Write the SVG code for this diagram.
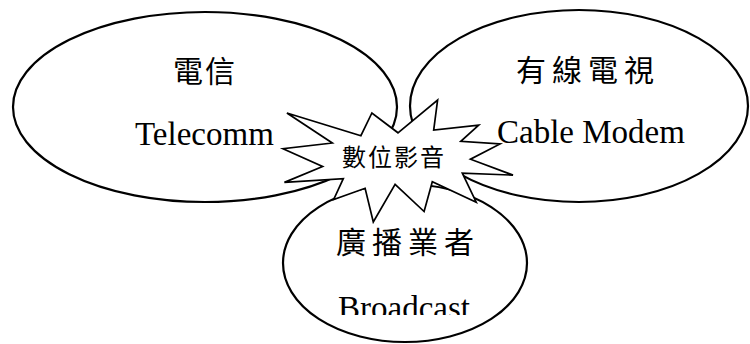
<svg xmlns="http://www.w3.org/2000/svg" width="750" height="344" viewBox="0 0 750 344">
<style>
.shape{fill:#fff;stroke:#000;stroke-width:2.2}
.star{fill:#fff;stroke:#000;stroke-width:1.7;stroke-linejoin:miter}
.cjk{font-family:"Noto Sans CJK TC","Noto Sans CJK SC",sans-serif;font-size:30px;letter-spacing:6px;fill:#000}
.cjk-s{font-family:"Noto Sans CJK TC","Noto Sans CJK SC",sans-serif;font-size:24px;letter-spacing:2px;fill:#000}
.en{font-family:"Liberation Serif","Times New Roman",serif;font-size:33px;fill:#000}
</style>
<defs>
<clipPath id="clipB"><rect x="300" y="280" width="200" height="35"/></clipPath>
</defs>
<g id="telecom">
<ellipse class="shape" cx="205" cy="107" rx="192" ry="95"/>
<text class="cjk" x="173" y="82" style="letter-spacing:2px">電信</text>
<text class="en" x="135" y="145">Telecomm</text>
</g>
<g id="cable">
<ellipse class="shape" cx="579" cy="106" rx="169" ry="96"/>
<text class="cjk" x="516" y="81">有線電視</text>
<text class="en" x="497" y="143">Cable Modem</text>
</g>
<g id="broadcast">
<ellipse class="shape" cx="405" cy="263" rx="122" ry="79"/>
<text class="cjk" x="336" y="253">廣播業者</text>
<text class="en" x="338" y="319" clip-path="url(#clipB)">Broadcast</text>
</g>
<g id="digital">
<polygon class="star" points="398,132.8 437.6,100 433.7,130.1 478.7,125.2 460.8,141.3 500,144 470.5,159.2 513,175.1 462.3,173.1 476.2,202.2 432.3,181.7 424.1,211.5 395.1,184.4 373.3,222 365.1,188.3 333.7,199.5 343.3,178.7 284.4,182.4 322.6,166.5 283,148.7 332.3,143 286.9,113 360.9,135.7 371.9,113"/>
<text class="cjk-s" x="342" y="166">數位影音</text>
</g>
<g id="connectors"></g>
</svg>
